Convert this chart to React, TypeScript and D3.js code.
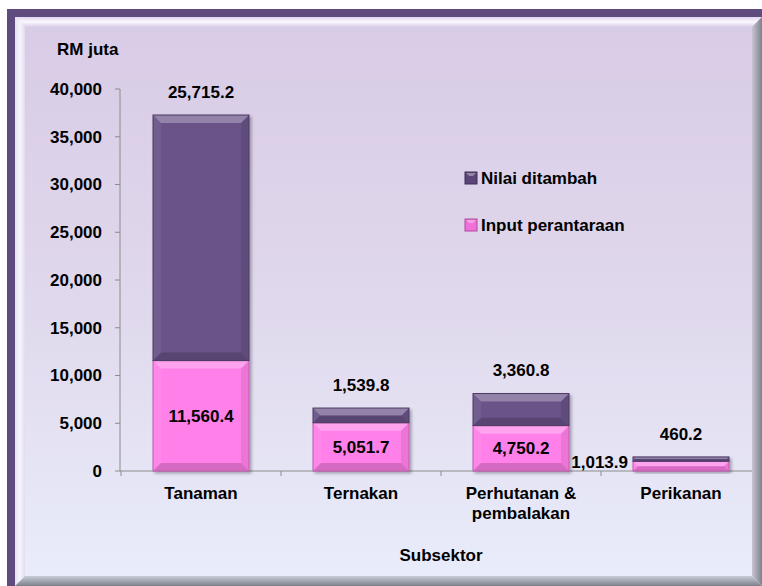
import React from "react";
import * as d3 from "d3";

const categories = ["Tanaman", "Ternakan", "Perhutanan & pembalakan", "Perikanan"];
const categoryLines = [["Tanaman"], ["Ternakan"], ["Perhutanan &", "pembalakan"], ["Perikanan"]];
const inputPerantaraan = [11560.4, 5051.7, 4750.2, 1013.9];
const nilaiDitambah = [25715.2, 1539.8, 3360.8, 460.2];
const yTicks = [0, 5000, 10000, 15000, 20000, 25000, 30000, 35000, 40000];
const seriesNames = ["Nilai ditambah", "Input perantaraan"];

const W = 762;
const H = 586;
const FONT = "'Liberation Sans', Arial, sans-serif";
const FS = 17;

const PURPLE = "#6a5388";
const PURPLE_STROKE = "#4b3a63";
const PINK = "#ff80e8";
const PINK_STROKE = "#c25ab0";

function fmt(v: number) {
  return d3.format(",.1f")(v);
}

function BevelRect({ x, y, w, h, fill, stroke }: { x: number; y: number; w: number; h: number; fill: string; stroke: string }) {
  const b = Math.max(0, Math.min(8, h / 2, w / 2));
  return (
    <g>
      <rect x={x} y={y} width={w} height={h} fill={fill} />
      <polygon points={`${x},${y} ${x + w},${y} ${x + w - b},${y + b} ${x + b},${y + b}`} fill="#ffffff" opacity={0.28} />
      <polygon points={`${x},${y} ${x + b},${y + b} ${x + b},${y + h - b} ${x},${y + h}`} fill="#ffffff" opacity={0.06} />
      <polygon points={`${x + w},${y} ${x + w - b},${y + b} ${x + w - b},${y + h - b} ${x + w},${y + h}`} fill="#000000" opacity={0.08} />
      <polygon points={`${x},${y + h} ${x + b},${y + h - b} ${x + w - b},${y + h - b} ${x + w},${y + h}`} fill="#000000" opacity={0.16} />
      <rect x={x} y={y} width={w} height={h} fill="none" stroke={stroke} strokeWidth={1} />
    </g>
  );
}

export default function App() {
  const plotLeft = 121;
  const plotRight = 761;
  const y = d3.scaleLinear().domain([0, 40000]).range([471, 89]);
  const x = d3.scaleBand<string>().domain(categories).range([plotLeft, plotRight]).paddingInner(0.4).paddingOuter(0.2);
  const bw = x.bandwidth();
  const step = x.step();

  return (
    <svg width={W} height={H} style={{ position: "absolute", left: 0, top: 0 }} fontFamily={FONT}>
      <defs>
        <linearGradient id="bg" x1="0" y1="0" x2="0" y2="1">
          <stop offset="0" stopColor="#d8cbe6" />
          <stop offset="0.5" stopColor="#e0d8ec" />
          <stop offset="1" stopColor="#e9edfb" />
        </linearGradient>
        <linearGradient id="topBev" x1="0" y1="0" x2="0" y2="1">
          <stop offset="0" stopColor="#e2d6ee" />
          <stop offset="0.5" stopColor="#fbf8fd" />
          <stop offset="1" stopColor="#dacde7" />
        </linearGradient>
        <linearGradient id="leftBev" x1="0" y1="0" x2="1" y2="0">
          <stop offset="0" stopColor="#e6e0f0" />
          <stop offset="0.5" stopColor="#f6f4fb" />
          <stop offset="1" stopColor="#e2dcee" />
        </linearGradient>
        <linearGradient id="rightBev" x1="0" y1="0" x2="1" y2="0">
          <stop offset="0" stopColor="#c8c4d2" />
          <stop offset="1" stopColor="#80808c" />
        </linearGradient>
        <linearGradient id="botBev" x1="0" y1="0" x2="0" y2="1">
          <stop offset="0" stopColor="#c8ccd6" />
          <stop offset="1" stopColor="#7c808a" />
        </linearGradient>
        <filter id="shadow" x="-10%" y="-10%" width="130%" height="130%">
          <feDropShadow dx="2" dy="2" stdDeviation="1.5" floodColor="#000" floodOpacity="0.3" />
        </filter>
      </defs>

      <rect x={0} y={0} width={W} height={H} fill="#ffffff" />
      <rect x={7} y={9} width={W - 7} height={H - 9} fill="#5f4b7e" />
      <rect x={15} y={17} width={W - 15} height={H - 17} fill="url(#bg)" />
      <polygon points={`15,17 ${W},17 ${W - 10},27 25,27`} fill="url(#topBev)" />
      <polygon points={`15,17 25,27 25,${H - 10} 15,${H}`} fill="url(#leftBev)" />
      <polygon points={`${W},17 ${W - 10},27 ${W - 10},${H - 10} ${W},${H}`} fill="url(#rightBev)" />
      <polygon points={`15,${H} 25,${H - 10} ${W - 10},${H - 10} ${W},${H}`} fill="url(#botBev)" />

      {/* y-axis title */}
      <text x={57} y={55} fontSize={FS} fontWeight="bold" fill="#000">RM juta</text>

      {/* y axis */}
      <line x1={plotLeft - 1} x2={plotLeft - 1} y1={y(40000)} y2={y(0)} stroke="#8c8c8c" strokeWidth={1} />
      {yTicks.map((t) => (
        <g key={t}>
          <line x1={plotLeft - 6} x2={plotLeft - 1} y1={y(t)} y2={y(t)} stroke="#8c8c8c" />
          <text x={102} y={y(t)} dy="0.35em" textAnchor="end" fontSize={FS} fontWeight="bold" fill="#000">
            {d3.format(",")(t)}
          </text>
        </g>
      ))}

      {/* x axis */}
      <line x1={plotLeft - 1} x2={W - 10} y1={y(0)} y2={y(0)} stroke="#8c8c8c" strokeWidth={1} />
      {categories.map((c, i) => (
        <line key={c} x1={plotLeft + i * step} x2={plotLeft + i * step} y1={y(0)} y2={y(0) + 5} stroke="#8c8c8c" />
      ))}

      {/* bars */}
      {categories.map((c, i) => {
        const bx = x(c) as number;
        const y0 = y(0);
        const y1 = y(inputPerantaraan[i]);
        const y2 = y(inputPerantaraan[i] + nilaiDitambah[i]);
        return (
          <g key={c}>
            <g filter="url(#shadow)">
              <BevelRect x={bx} y={y1} w={bw} h={y0 - y1} fill={PINK} stroke={PINK_STROKE} />
              <BevelRect x={bx} y={y2} w={bw} h={y1 - y2} fill={PURPLE} stroke={PURPLE_STROKE} />
            </g>
          </g>
        );
      })}

      {/* labels */}
      {categories.map((c, i) => {
        const bx = x(c) as number;
        const cx = bx + bw / 2;
        const y0 = y(0);
        const y1 = y(inputPerantaraan[i]);
        const y2 = y(inputPerantaraan[i] + nilaiDitambah[i]);
        const small = y0 - y1 < 20;
        return (
          <g key={c} fontSize={FS} fontWeight="bold" fill="#000">
            <text x={cx} y={y2 - 23} dy="0.35em" textAnchor="middle">{fmt(nilaiDitambah[i])}</text>
            {small ? (
              <text x={bx - 5} y={(y0 + y1) / 2 - 4} dy="0.35em" textAnchor="end">{fmt(inputPerantaraan[i])}</text>
            ) : (
              <text x={cx} y={(y0 + y1) / 2} dy="0.35em" textAnchor="middle">{fmt(inputPerantaraan[i])}</text>
            )}
            {categoryLines[i].map((l, j) => (
              <text key={j} x={cx} y={493 + j * 20} dy="0.35em" textAnchor="middle">{l}</text>
            ))}
          </g>
        );
      })}

      {/* x-axis title */}
      <text x={(plotLeft + plotRight) / 2 - 80 + 80} y={555} dy="0.35em" textAnchor="middle" fontSize={FS} fontWeight="bold" fill="#000">
        Subsektor
      </text>

      {/* legend */}
      {seriesNames.map((s, i) => (
        <g key={s} transform={`translate(465, ${178 + i * 47})`}>
          <rect x={0} y={-6} width={12} height={12} fill={i === 0 ? "#5a4478" : "#f070d8"} stroke={i === 0 ? "#3e2f55" : "#b04aa0"} />
          <polygon points="1,-5 11,-5 8,-2 4,-2" fill="#fff" opacity={0.35} />
          <text x={16} y={0} dy="0.35em" fontSize={FS} fontWeight="bold" fill="#000">{s}</text>
        </g>
      ))}
    </svg>
  );
}
